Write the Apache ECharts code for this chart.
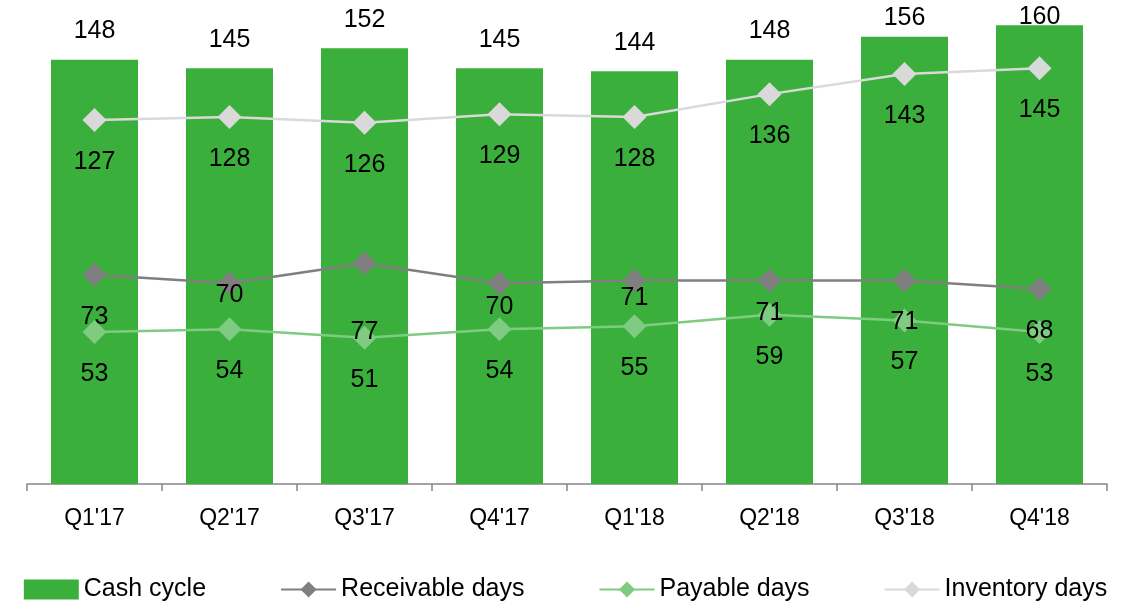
<!DOCTYPE html>
<html>

<head>
    <meta charset="utf-8">
    <script src="https://cdn.jsdelivr.net/npm/echarts@6/dist/echarts.min.js"></script>
</head>

<body style="margin:0">
    <div id="main" style="width: 1131px;height:601px;"></div>
    <script type="text/javascript">
        // data
        var quarters = ["Q1'17", "Q2'17", "Q3'17", "Q4'17", "Q1'18", "Q2'18", "Q3'18", "Q4'18"];
        var cashCycle = [148, 145, 152, 145, 144, 148, 156, 160];
        var receivableDays = [73, 70, 77, 70, 71, 71, 71, 68];
        var payableDays = [53, 54, 51, 54, 55, 59, 57, 53];
        var inventoryDays = [127, 128, 126, 129, 128, 136, 143, 145];

        // labels nudged by hand in the original, vertical offsets in px
        var recvLabelDy = [42, 12, 69, 24, 18, 33, 42, 42];
        var barLabelDy = [0, 0, 0, 0, 0, 0, 10, 20];

        var colors = ['#3BAF3C', '#7F7F7F', '#7FCB82', '#D9D9D9'];
        var font = 'Liberation Sans';

        var myChart = echarts.init(document.getElementById('main'));

        function lineSeries(name, data, color) {
            return {
                name: name,
                type: 'line',
                data: data,
                symbol: 'diamond',
                symbolSize: [24, 24],
                lineStyle: { color: color, width: 2.5 },
                itemStyle: { color: color },
                label: {
                    show: true,
                    position: 'inside',
                    offset: [0, 42],
                    color: '#000',
                    fontSize: 25,
                    fontFamily: font
                },
                z: 3
            };
        }

        var recv = lineSeries('Receivable days', receivableDays.map(function (v, i) {
            return { value: v, label: { offset: [0, recvLabelDy[i]] } };
        }), colors[1]);

        myChart.setOption({
            animation: false,
            color: colors,
            grid: { left: 27, right: 24, top: 11, bottom: 117 },
            legend: {
                left: 'center',
                top: 572,
                itemWidth: 55,
                itemHeight: 20,
                itemGap: 74,
                textStyle: { fontSize: 25, fontFamily: font, color: '#000' },
                data: [
                    { name: 'Cash cycle', icon: 'rect' },
                    'Receivable days', 'Payable days', 'Inventory days'
                ]
            },
            xAxis: {
                type: 'category',
                data: quarters,
                axisLine: { lineStyle: { color: '#868686', width: 1.5 } },
                axisTick: { show: true, length: 7, lineStyle: { color: '#868686', width: 1.5 } },
                axisLabel: { margin: 23, fontSize: 23, fontFamily: font, color: '#000' }
            },
            yAxis: {
                type: 'value',
                min: 0,
                max: 165,
                show: false
            },
            series: [
                {
                    name: 'Cash cycle',
                    type: 'bar',
                    data: cashCycle.map(function (v, i) {
                        return { value: v, label: { offset: [0, barLabelDy[i]] } };
                    }),
                    barWidth: 87,
                    itemStyle: { color: colors[0] },
                    label: {
                        show: true,
                        position: 'top',
                        distance: 16,
                        color: '#000',
                        fontSize: 25,
                        fontFamily: font
                    }
                },
                recv,
                lineSeries('Payable days', payableDays, colors[2]),
                lineSeries('Inventory days', inventoryDays, colors[3])
            ]
        });
    </script>
</body>

</html>
